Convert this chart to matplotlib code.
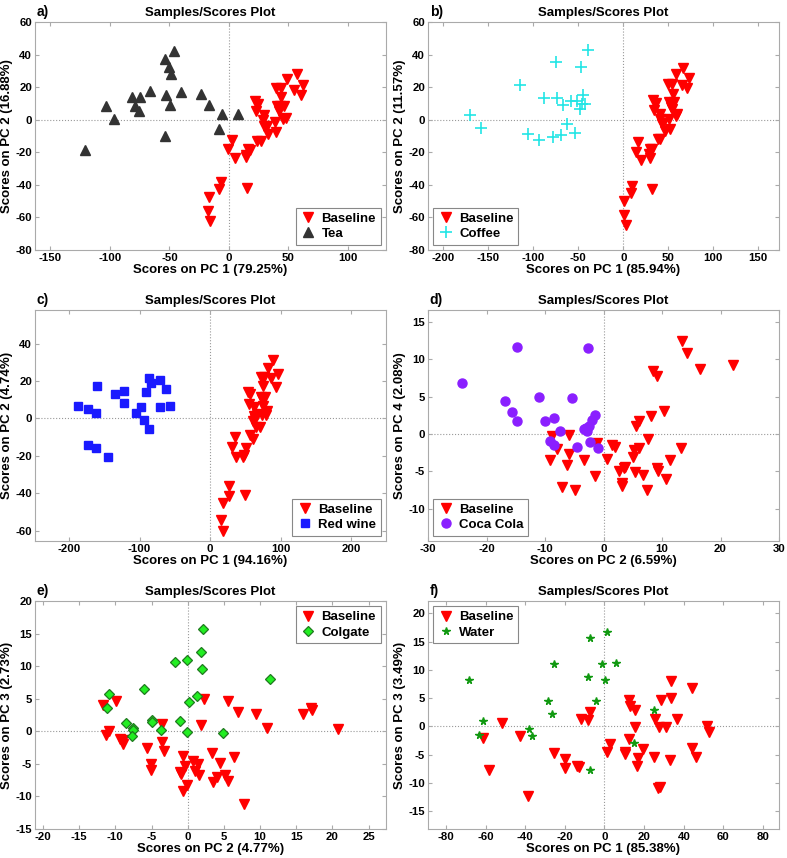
import matplotlib
matplotlib.use("Agg")
import matplotlib.pyplot as plt

plt.rcParams["font.family"] = ["Liberation Sans", "DejaVu Sans"]
plt.rcParams["font.weight"] = "bold"
plt.rcParams["axes.unicode_minus"] = False

# a) baseline vs tea, PC1 / PC2
a_base_x = [57.4, 62.4, 48.7, 54.6, 60.2, 39.5, 43.4, 43.4, 22.1, 24.4, 22.4, 29.4, 40.6, 42.6,
			46.2, 42.0, 45.6, 47.6, 28.6, 29.4, 32.2, 38.6, 39.2, 32.8, 23.8, 26.6, 2.8, -0.6,
			16.2, 17.9, 14.6, 14.0, 5.0, -7.0, -8.1, 14.8, -16.5, -17.6, -16.0]
a_base_y = [28.1, 21.3, 25.0, 18.0, 15.0, 19.5, 19.5, 13.7, 11.7, 9.8, 5.1, 3.1, 8.6, 8.6,
			8.6, 5.5, 0.6, 1.0, -0.4, -4.1, -3.7, -1.4, -7.8, -8.8, -12.9, -12.9, -12.3, -18.0,
			-18.0, -18.9, -21.5, -23.2, -23.6, -38.5, -42.6, -42.2, -47.2, -56.0, -61.9]
tea_x = [-121.2, -103.0, -96.6, -81.8, -79.0, -75.6, -74.8, -66.4, -53.8, -53.5, -52.6,
		 -50.7, -49.3, -48.4, -46.2, -40.3, -23.8, -16.5, -8.4, -5.6, 7.8]
tea_y = [-18.4, 8.6, 0.4, 13.7, 8.6, 5.5, 13.9, 17.8, 37.3, -9.8, 15.4,
		 32.2, 8.8, 28.1, 42.4, 16.8, 15.6, 8.8, -5.7, 3.5, 3.5]

# b) baseline vs coffee, PC1 / PC2
b_base_x = [66.6, 73.3, 71.0, 65.0, 58.5, 50.0, 54.0, 54.8, 33.3, 35.9, 51.0, 56.6, 52.9, 53.7,
			34.4, 60.0, 58.1, 40.7, 41.1, 51.0, 42.6, 44.4, 51.8, 46.3, 38.9, 40.7, 16.7, 14.1,
			29.6, 32.2, 28.9, 29.6, 19.6, 9.6, 8.5, 32.2, 0.7, 0.4, 2.6]
b_base_y = [31.8, 25.8, 19.5, 21.1, 27.9, 21.7, 21.7, 16.0, 11.9, 10.5, 10.9, 10.9, 7.8, 6.8,
			5.7, 3.7, 2.0, 3.7, 0.6, 0.6, -2.9, -2.0, -5.5, -7.2, -11.7, -11.7, -13.7, -19.9,
			-17.8, -18.2, -21.3, -23.6, -25.0, -40.6, -45.1, -42.4, -50.0, -58.8, -64.8]
coffee_x = [-170.0, -158.0, -114.7, -105.5, -93.6, -87.7, -74.7, -74.0, -77.7, -69.2, -66.6,
			-62.2, -58.5, -53.7, -51.4, -48.1, -47.0, -46.3, -44.4, -42.6, -39.6]
coffee_y = [2.7, -5.1, 21.1, -8.6, -12.7, 13.5, 35.5, 13.5, -10.7, -9.6, 8.8,
			-2.9, 11.3, -8.0, 11.3, 6.8, 32.4, 9.4, 15.4, 9.8, 43.0]

# c) baseline vs red wine, PC1 / PC2
c_base_x = [89.6, 96.2, 81.6, 85.9, 93.9, 72.2, 76.0, 74.5, 54.2, 56.1, 72.2, 77.8, 73.6, 75.5,
			55.2, 61.8, 80.2, 79.7, 73.1, 66.0, 61.8, 64.2, 61.3, 65.6, 70.8, 56.1, 60.4, 35.4,
			31.6, 50.9, 48.6, 46.2, 36.3, 26.4, 26.4, 49.5, 17.5, 16.0, 17.5]
c_base_y = [31.2, 23.5, 27.1, 21.8, 16.8, 22.1, 22.1, 17.3, 14.3, 13.2, 11.6, 11.6, 10.2, 6.8,
			7.7, 5.9, 3.9, 1.8, 2.0, 2.3, 1.2, -0.5, -1.4, -4.8, -4.8, -8.9, -11.1, -9.8,
			-15.2, -15.7, -19.6, -20.5, -20.3, -36.0, -41.4, -40.7, -45.3, -54.2, -59.9]
wine_x = [-187.3, -173.6, -161.8, -159.9, -172.6, -162.3, -144.3, -134.4, -122.6, -122.6,
		  -105.2, -98.6, -94.3, -90.6, -86.3, -86.3, -84.4, -70.3, -70.8, -62.7, -57.1]
wine_y = [6.8, 5.3, 2.7, 17.5, -13.9, -16.0, -20.5, 12.8, 14.8, 8.2,
		  3.0, 6.1, -0.9, 14.3, -5.7, 21.4, 19.1, 20.7, 6.1, 15.9, 6.4]

# d) baseline vs coca cola, PC2 / PC4
d_base_x = [13.5, 14.2, 22.2, 16.5, 8.5, 9.2, 10.3, 8.1, 6.0, 5.6, 7.6, -8.8, -5.9, -8.0,
			-1.1, 1.4, 1.9, 6.0, 5.2, 13.2, 5.1, 11.3, -9.1, -5.9, -3.4, 0.6, -6.3, 3.7,
			3.5, 2.7, 9.2, 9.3, 5.3, 6.7, 10.7, -1.4, 3.2, 3.1, -7.1, -4.8, 7.5]
d_base_y = [12.5, 10.8, 9.2, 8.7, 8.4, 7.8, 3.1, 2.4, 1.7, 1.1, -0.6, -0.2, -0.1, -2.0,
			-1.2, -1.5, -1.7, -1.8, -2.1, -1.9, -3.0, -3.4, -3.5, -2.7, -3.4, -3.3, -4.2, -4.4,
			-4.6, -4.9, -4.6, -4.9, -5.1, -5.5, -6.0, -5.6, -6.5, -6.9, -7.1, -7.5, -7.5]
cola_x = [-24.2, -16.8, -15.7, -14.8, -14.8, -11.1, -10.0, -9.1, -8.5, -8.4, -7.4,
		  -5.4, -4.6, -3.4, -3.0, -2.8, -2.7, -2.5, -2.3, -1.9, -1.4, -0.9]
cola_y = [6.9, 4.4, 2.9, 11.6, 1.8, 4.9, 1.7, -0.9, 2.2, -1.5, 0.4,
		  4.8, -1.7, 0.7, 0.8, 0.4, 11.5, 1.1, -1.0, 1.9, 2.6, -1.8]

# e) baseline vs colgate, PC2 / PC3
e_base_x = [-11.7, -9.9, -11.3, -10.9, -9.3, -8.9, -9.0, -5.6, -5.1, -5.1, -3.6, -3.5, -3.3,
			-0.6, -0.4, -1.0, -0.9, -0.6, -0.05, 0.8, 1.0, 1.4, 1.6, 1.9, 2.3, 3.4, 3.5, 4.0,
			4.5, 5.1, 5.6, 5.6, 6.4, 7.0, 7.8, 9.4, 11.0, 16.0, 17.1, 17.2, 20.8]
e_base_y = [4.0, 4.7, -0.6, 0.0, -1.2, -1.3, -2.0, -2.5, -5.0, -5.9, 1.1, -1.6, -3.1,
			-3.8, -5.3, -6.2, -6.5, -9.1, -8.3, -4.6, -6.1, -5.0, -6.7, 0.9, 4.9, -3.3, -7.8, -7.0,
			-4.8, -6.7, -7.6, 4.7, -3.9, 3.0, -11.2, 2.7, 0.5, 2.6, 3.6, 3.3, 0.3]
colgate_x = [-10.9, -11.2, -8.5, -7.6, -7.6, -7.7, -6.0, -4.9, -4.9, -3.7, -1.8,
			 -1.1, -0.1, -0.1, 0.2, 1.3, 1.9, 2.1, 2.0, 4.9, 11.4]
colgate_y = [5.7, 3.5, 1.3, 0.5, 0.2, -0.8, 6.5, 1.8, 1.4, 0.2, 10.7,
			 1.6, 11.0, -0.05, 4.5, 5.4, 12.2, 15.7, 9.5, -0.3, 8.0]

# f) baseline vs water, PC1 / PC3
f_base_x = [-51.8, -61.5, -58.1, -42.6, -38.4, -25.6, -20.0, -20.0, -13.9, -13.0, -11.7, -8.4,
			-7.2, 1.3, 2.8, 10.4, 10.4, 12.4, 12.7, 12.2, 15.4, 15.5, 16.7, 16.5, 19.4, 25.0,
			25.7, 27.6, 28.7, 31.2, 27.1, 27.9, 33.1, 33.7, 33.7, 36.7, 43.9, 43.9, 45.9,
			51.6, 52.9]
f_base_y = [0.5, -2.0, -7.7, -1.7, -12.4, -4.7, -5.8, -7.4, -7.0, -7.2, 1.3, 1.2,
			2.5, -4.5, -3.2, -4.5, -4.9, 4.7, 3.6, -2.2, 2.9, -0.1, -5.7, -7.1, -4.0, -5.4,
			1.3, -0.2, 4.7, -0.2, -10.9, -10.7, -5.9, 5.0, 8.1, 1.3, 6.7, -3.8, -5.4,
			0.0, -1.0]
water_x = [-68.3, -61.1, -63.5, -37.9, -36.7, -28.7, -26.7, -25.4, -8.2, -7.5, -7.5,
		   -4.2, -1.3, 0.3, 1.2, 5.7, 14.7, 24.9]
water_y = [8.2, 0.9, -1.6, -0.5, -1.7, 4.4, 2.1, 11.1, 8.7, 15.6, -7.7,
		   4.5, 11.1, 8.2, 16.7, 11.2, -2.9, 2.8]

def draw_panel(ax, letter, base_x, base_y, other_x, other_y, other_label, style,
			   xlabel, ylabel, xlim, ylim, xticks, yticks, legend_loc):
	""" draw one scores plot """
	ax.axhline(0, color = "#999999", lw = 0.8, ls = ":", zorder = 1)
	ax.axvline(0, color = "#999999", lw = 0.8, ls = ":", zorder = 1)

	ax.plot(base_x, base_y, "v", color = "#ff0000", ms = 6.5, ls = "none",
			label = "Baseline", zorder = 3)
	ax.plot(other_x, other_y, ls = "none", label = other_label, zorder = 3, **style)

	ax.set_xlim(xlim)
	ax.set_ylim(ylim)
	ax.set_xticks(xticks)
	ax.set_yticks(yticks)
	ax.tick_params(direction = "in", length = 3, color = "#aaaaaa", labelsize = 8.2,
				   top = True, right = True, pad = 2)
	for lab in ax.get_xticklabels() + ax.get_yticklabels():
		lab.set_fontweight("bold")
	for sp in ax.spines.values():
		sp.set_color("#aaaaaa")
		sp.set_linewidth(0.8)

	ax.set_title("Samples/Scores Plot", fontsize = 9.5, fontweight = "bold", pad = 4)
	ax.set_xlabel(xlabel, fontsize = 9.5, fontweight = "bold", labelpad = 1)
	ax.set_ylabel(ylabel, fontsize = 9.5, fontweight = "bold")
	ax.yaxis.set_label_coords(-0.063, 0.5) # right edge of the rotated label
	ax.text(0.005, 1.015, letter, transform = ax.transAxes, fontsize = 10,
			fontweight = "bold", ha = "left", va = "bottom")

	leg = ax.legend(loc = legend_loc, fontsize = 9.5, fancybox = False, framealpha = 1,
					borderpad = 0.35, handletextpad = 0.4, labelspacing = 0.25,
					handlelength = 1.2, borderaxespad = 0.4)
	leg.get_frame().set_edgecolor("#888888")
	leg.get_frame().set_linewidth(0.8)
	for t in leg.get_texts():
		t.set_fontweight("bold")

fig = plt.figure(figsize = (7.87, 8.58), dpi = 100)

col_left = [35 / 787, 428 / 787]
w = 351 / 787
rows = [(1 - 250 / 858, 228 / 858), (1 - 541 / 858, 231 / 858), (1 - 829 / 858, 228 / 858)]

ax_a = fig.add_axes([col_left[0], rows[0][0], w, rows[0][1]])
ax_b = fig.add_axes([col_left[1], rows[0][0], w, rows[0][1]])
ax_c = fig.add_axes([col_left[0], rows[1][0], w, rows[1][1]])
ax_d = fig.add_axes([col_left[1], rows[1][0], w, rows[1][1]])
ax_e = fig.add_axes([col_left[0], rows[2][0], w, rows[2][1]])
ax_f = fig.add_axes([col_left[1], rows[2][0], w, rows[2][1]])

draw_panel(ax_a, "a)", a_base_x, a_base_y, tea_x, tea_y, "Tea",
		   dict(marker = "^", color = "#333333", ms = 6.5),
		   "Scores on PC 1 (79.25%)", "Scores on PC 2 (16.88%)",
		   (-163, 132), (-80, 60), range(-150, 101, 50), range(-80, 61, 20), "lower right")
draw_panel(ax_b, "b)", b_base_x, b_base_y, coffee_x, coffee_y, "Coffee",
		   dict(marker = "+", color = "#22e5e5", ms = 8, mew = 1.2),
		   "Scores on PC 1 (85.94%)", "Scores on PC 2 (11.57%)",
		   (-217, 173), (-80, 60), range(-200, 151, 50), range(-80, 61, 20), "lower left")
draw_panel(ax_c, "c)", c_base_x, c_base_y, wine_x, wine_y, "Red wine",
		   dict(marker = "s", color = "#1a1aff", ms = 5.5),
		   "Scores on PC 1 (94.16%)", "Scores on PC 2 (4.74%)",
		   (-248, 249), (-65.4, 57.9), range(-200, 201, 100), range(-60, 41, 20), "lower right")
draw_panel(ax_d, "d)", d_base_x, d_base_y, cola_x, cola_y, "Coca Cola",
		   dict(marker = "o", color = "#8a1fff", ms = 6.5),
		   "Scores on PC 2 (6.59%)", "Scores on PC 4 (2.08%)",
		   (-30, 30), (-14.3, 16.6), range(-30, 31, 10), range(-10, 16, 5), "lower left")
draw_panel(ax_e, "e)", e_base_x, e_base_y, colgate_x, colgate_y, "Colgate",
		   dict(marker = "D", mfc = "#22ee22", mec = "#1f7a1f", ms = 5.5, mew = 0.9),
		   "Scores on PC 2 (4.77%)", "Scores on PC 3 (2.73%)",
		   (-21.1, 27.4), (-15, 20), range(-20, 26, 5), range(-15, 21, 5), "upper right")
draw_panel(ax_f, "f)", f_base_x, f_base_y, water_x, water_y, "Water",
		   dict(marker = "*", color = "#119911", ms = 5.5),
		   "Scores on PC 1 (85.38%)", "Scores on PC 3 (3.49%)",
		   (-89, 88), (-18.2, 22.2), range(-80, 81, 20), range(-15, 21, 5), "upper left")

fig.savefig("out.png", dpi = 100)
